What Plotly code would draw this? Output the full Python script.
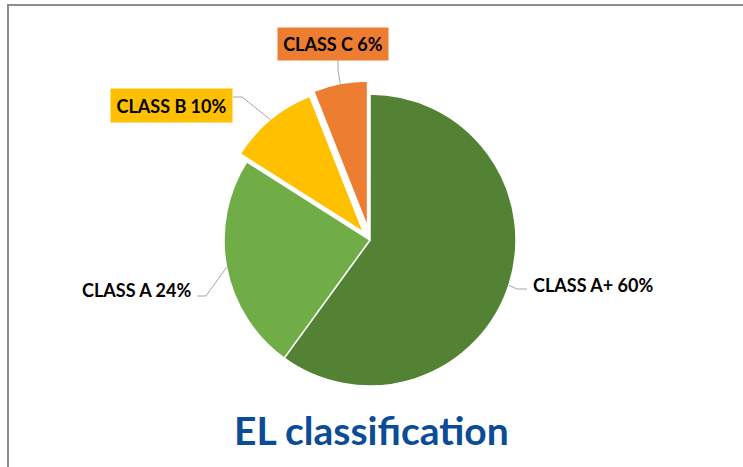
import numpy as np
import plotly.graph_objects as go

# data
classes = ["CLASS A+", "CLASS A", "CLASS B", "CLASS C"]
shares = [60, 24, 10, 6]
colors = ["#548235", "#70AD47", "#FFC000", "#ED7D31"]
pulls = [0, 0, 0.07, 0.09]

W, H = 743, 467
cx, cy, R = 370, 240, 146  # pie centre / radius in px

# label layout (px): anchor point, elbow + end of leader line, box
label_cfg = {
    "CLASS A+": dict(x=531, y=285, xanchor="left", elbow=(517, 289), end=(527, 289), bg=None),
    "CLASS A": dict(x=193, y=290, xanchor="right", elbow=(206, 296), end=(197, 296), bg=None),
    "CLASS B": dict(x=171, y=106, xanchor="center", elbow=(242, 97), end=(233, 97), bg=(121, 33)),
    "CLASS C": dict(x=333, y=44, xanchor="center", elbow=(338, 70), end=(338, 60), bg=(110, 32)),
}


def px(x, y):
    return x / W, 1 - y / H


maxpull = max(pulls)
half = R * (1 + maxpull)
fig = go.Figure(go.Pie(
    labels=classes, values=shares, sort=False, direction="clockwise", rotation=0,
    pull=pulls, textinfo="none", hoverinfo="label+percent",
    marker=dict(colors=colors, line=dict(color="white", width=1.5)),
    domain=dict(x=[(cx - half) / W, (cx + half) / W],
                y=[1 - (cy + half) / H, 1 - (cy - half) / H]),
    showlegend=False,
))

shapes = []
annotations = []
total = sum(shares)
start = 0.0
for name, val, col, p in zip(classes, shares, colors, pulls):
    frac = val / total
    mid = (start + frac / 2) * 2 * np.pi
    start += frac
    # point on slice edge (incl. pull) at the middle angle
    r = R * (1 + p)
    ex, ey = cx + r * np.sin(mid), cy - r * np.cos(mid)
    cfg = label_cfg[name]
    (bx, by), (tx, ty) = cfg["elbow"], cfg["end"]
    x0, y0 = px(ex, ey)
    x1, y1 = px(bx, by)
    x2, y2 = px(tx, ty)
    shapes.append(dict(type="path", xref="paper", yref="paper",
                       path=f"M {x0},{y0} L {x1},{y1} L {x2},{y2}",
                       line=dict(color="#A6A6A6", width=1)))
    ax, ay = px(cfg["x"], cfg["y"])
    ann = dict(x=ax, y=ay, xref="paper", yref="paper", showarrow=False,
               xanchor=cfg["xanchor"], yanchor="middle",
               text=f"<b>{name} {val}%</b>",
               font=dict(family="Lato", size=18, color="#000000"))
    if cfg["bg"]:
        ann.update(bgcolor=col, width=cfg["bg"][0], height=cfg["bg"][1], borderpad=0,
                   align="center", valign="middle")
    annotations.append(ann)

# title
tx, ty = px(372, 430)
annotations.append(dict(x=tx, y=ty, xref="paper", yref="paper", showarrow=False,
                        xanchor="center", yanchor="middle",
                        text="<b>EL classification</b>",
                        font=dict(family="Lato", size=39, color="#0B4C96")))

# chart border
bx0, by1 = px(8, 5)
shapes.append(dict(type="rect", xref="paper", yref="paper",
                   x0=bx0, x1=1.02, y0=-0.02, y1=by1,
                   line=dict(color="#8C8C8C", width=2)))

fig.update_layout(width=W, height=H, margin=dict(l=0, r=0, t=0, b=0),
                  paper_bgcolor="white", plot_bgcolor="white",
                  shapes=shapes, annotations=annotations)

# page body margin off so the figure fills the window exactly
fig.write_html("out.html", config={"displayModeBar": False},
               post_script="document.body.style.margin='0';")
